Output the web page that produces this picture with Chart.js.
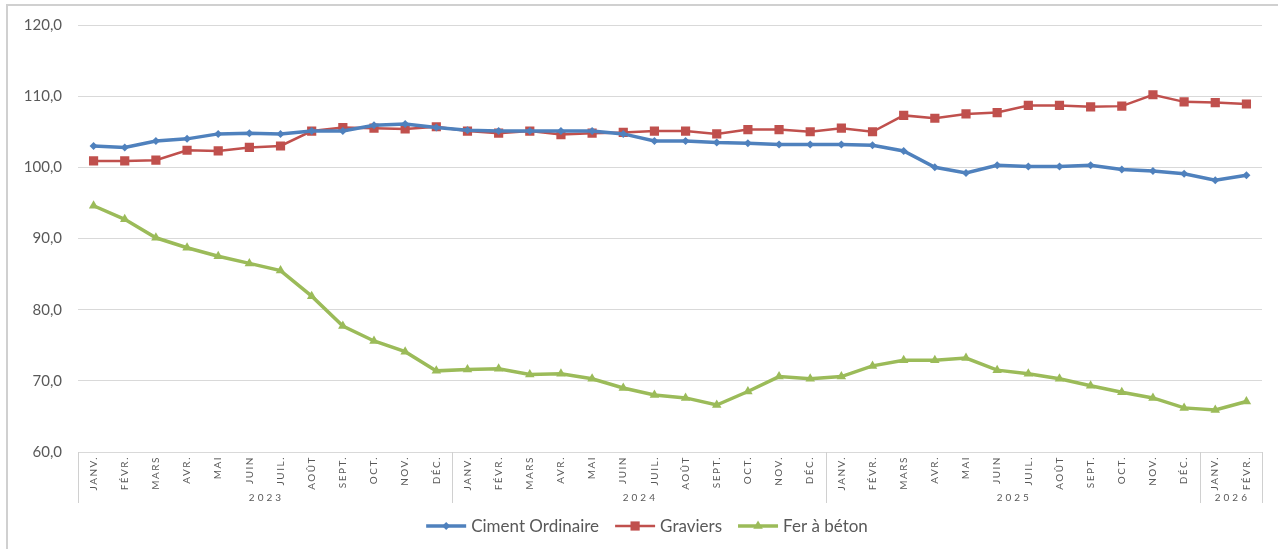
<!DOCTYPE html>
<html lang="fr">
<head>
    <meta charset="UTF-8">
    <title>Indices de prix - matériaux</title>
    <script src="https://cdn.jsdelivr.net/npm/chart.js"></script>
    <style>
        html, body { margin: 0; padding: 0; background: #fff; }
        #wrap { width: 1278px; height: 549px; position: relative; }
    </style>
</head>
<body>
    <div id="wrap">
        <canvas id="priceChart" width="1278" height="549"></canvas>
    </div>

    <script>
        // months per year, and the years shown on the category axis
        const monthNames = ['JANV.', 'FÉVR.', 'MARS', 'AVR.', 'MAI', 'JUIN', 'JUIL.', 'AOÛT', 'SEPT.', 'OCT.', 'NOV.', 'DÉC.'];
        const years = ['2023', '2024', '2025', '2026'];
        const monthsPerYear = [12, 12, 12, 2];

        const cimentOrdinaire = [103.0, 102.8, 103.7, 104.0, 104.7, 104.8, 104.7, 105.1, 105.1, 105.9, 106.1, 105.6,
                                 105.2, 105.1, 105.1, 105.1, 105.1, 104.7, 103.7, 103.7, 103.5, 103.4, 103.2, 103.2,
                                 103.2, 103.1, 102.3, 100.0, 99.2, 100.3, 100.1, 100.1, 100.3, 99.7, 99.5, 99.1,
                                 98.2, 98.9];
        const graviers = [100.9, 100.9, 101.0, 102.4, 102.3, 102.8, 103.0, 105.1, 105.6, 105.5, 105.4, 105.7,
                          105.1, 104.8, 105.1, 104.6, 104.8, 104.9, 105.1, 105.1, 104.7, 105.3, 105.3, 105.0,
                          105.5, 105.0, 107.3, 106.9, 107.5, 107.7, 108.7, 108.7, 108.5, 108.6, 110.2, 109.2,
                          109.1, 108.9];
        const ferABeton = [94.6, 92.7, 90.1, 88.7, 87.5, 86.5, 85.5, 81.9, 77.7, 75.6, 74.1, 71.4,
                           71.6, 71.7, 70.9, 71.0, 70.3, 69.0, 68.0, 67.6, 66.6, 68.5, 70.6, 70.3,
                           70.6, 72.1, 72.9, 72.9, 73.2, 71.5, 71.0, 70.3, 69.3, 68.4, 67.6, 66.2,
                           65.9, 67.1];

        const yMin = 60, yMax = 120, yStep = 10;

        const labels = [];
        monthsPerYear.forEach(n => {
            for (let i = 0; i < n; i++) labels.push(monthNames[i]);
        });

        const FONT = 'Lato, "Liberation Sans", sans-serif';
        const TEXT = '#595959';

        const series = [
            { label: 'Ciment Ordinaire', data: cimentOrdinaire, color: '#4F81BD', width: 3.5, style: 'rectRot', radius: 4 },
            { label: 'Graviers', data: graviers, color: '#C0504D', width: 2.5, style: 'rect', radius: 6.5 },
            { label: 'Fer à béton', data: ferABeton, color: '#9BBB59', width: 3.5, style: 'triangle', radius: 5.5 }
        ];

        // frame, two-level category axis and legend
        const decorations = {
            id: 'decorations',
            beforeDraw(chart) {
                const ctx = chart.ctx;
                ctx.save();
                ctx.fillStyle = '#fff';
                ctx.fillRect(0, 0, chart.width, chart.height);
                ctx.strokeStyle = '#D0D0D0';
                ctx.lineWidth = 2;
                ctx.beginPath();
                ctx.moveTo(7, chart.height);
                ctx.lineTo(7, 5);
                ctx.lineTo(chart.width, 5);
                ctx.stroke();
                ctx.restore();
            },
            afterDraw(chart) {
                const ctx = chart.ctx;
                const x = chart.scales.x;
                const area = chart.chartArea;
                const half = (x.getPixelForValue(1) - x.getPixelForValue(0)) / 2;
                ctx.save();

                // group separators
                ctx.strokeStyle = '#D0D0D0';
                ctx.lineWidth = 1;
                let idx = 0;
                const bounds = [0];
                monthsPerYear.forEach(n => { idx += n; bounds.push(idx); });
                bounds.forEach(b => {
                    const px = Math.round(b === 0 ? x.getPixelForValue(0) - half : x.getPixelForValue(b - 1) + half) + 0.5;
                    ctx.beginPath();
                    ctx.moveTo(px, area.bottom);
                    ctx.lineTo(px, area.bottom + 51);
                    ctx.stroke();
                });

                // month labels
                ctx.fillStyle = TEXT;
                ctx.font = '10px ' + FONT;
                ctx.letterSpacing = '1.5px';
                ctx.textAlign = 'right';
                ctx.textBaseline = 'middle';
                labels.forEach((lab, i) => {
                    ctx.save();
                    ctx.translate(x.getPixelForValue(i), area.bottom + 4);
                    ctx.rotate(-Math.PI / 2);
                    ctx.fillText(lab, 0, 0);
                    ctx.restore();
                });

                // year labels
                ctx.font = '10px ' + FONT;
                ctx.letterSpacing = '3px';
                ctx.textAlign = 'center';
                years.forEach((yr, k) => {
                    const a = x.getPixelForValue(bounds[k]) - half;
                    const b = x.getPixelForValue(bounds[k + 1] - 1) + half;
                    ctx.fillText(yr, (a + b) / 2 + 1.5, area.bottom + 46);
                });
                ctx.letterSpacing = '0px';

                // legend: line with marker, then text
                ctx.font = '17px ' + FONT;
                ctx.textAlign = 'left';
                const lineLen = 40, gap = 5, itemGap = 16;
                const widths = series.map(s => lineLen + gap + ctx.measureText(s.label).width);
                const total = widths.reduce((p, w) => p + w, 0) + itemGap * (series.length - 1);
                let lx = 647 - total / 2;
                const ly = 526;
                series.forEach((s, i) => {
                    ctx.strokeStyle = s.color;
                    ctx.lineWidth = s.width;
                    ctx.beginPath();
                    ctx.moveTo(lx, ly);
                    ctx.lineTo(lx + lineLen, ly);
                    ctx.stroke();
                    ctx.fillStyle = s.color;
                    Chart.helpers.drawPoint(ctx, { pointStyle: s.style, radius: s.radius, rotation: 0, borderWidth: 0 }, lx + lineLen / 2, ly);
                    ctx.fillStyle = TEXT;
                    ctx.fillText(s.label, lx + lineLen + gap, ly + 1);
                    lx += widths[i] + itemGap;
                });
                ctx.restore();
            }
        };

        const chart = new Chart(document.getElementById('priceChart'), {
            type: 'line',
            data: {
                labels: labels,
                datasets: series.map(s => ({
                    label: s.label,
                    data: s.data,
                    borderColor: s.color,
                    backgroundColor: s.color,
                    borderWidth: s.width,
                    pointStyle: s.style,
                    pointRadius: s.radius,
                    pointBorderWidth: 0,
                    pointBackgroundColor: s.color,
                    tension: 0
                }))
            },
            options: {
                responsive: false,
                animation: false,
                devicePixelRatio: 1,
                layout: { padding: { top: 22, right: 16, bottom: 0, left: 0 } },
                plugins: {
                    legend: { display: false },
                    tooltip: { enabled: false }
                },
                scales: {
                    x: {
                        offset: true,
                        grid: { display: false },
                        border: { display: false },
                        ticks: { display: false },
                        afterFit(scale) { scale.height = 97; }
                    },
                    y: {
                        min: yMin,
                        max: yMax,
                        grid: { color: '#D9D9D9', lineWidth: 1, drawTicks: false },
                        border: { display: false },
                        ticks: {
                            stepSize: yStep,
                            padding: 16,
                            color: TEXT,
                            font: { family: FONT, size: 15 },
                            callback: v => v.toFixed(1).replace('.', ',')
                        },
                        afterFit(scale) { scale.width = 78; }
                    }
                }
            },
            plugins: [decorations]
        });
    </script>
</body>
</html>
